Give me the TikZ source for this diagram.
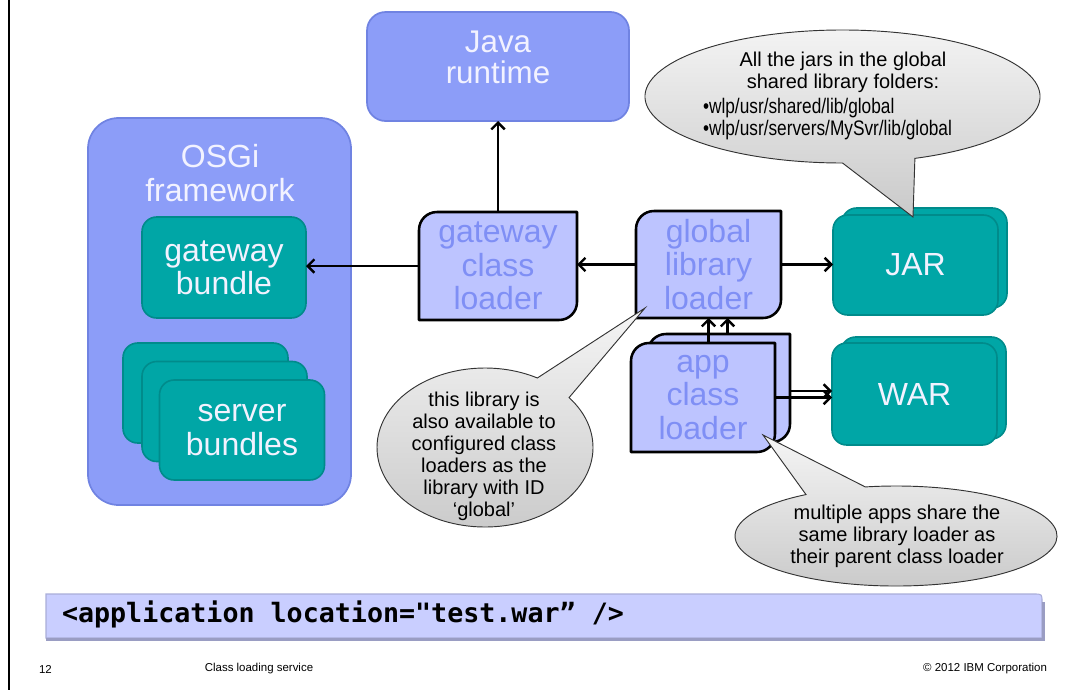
\documentclass[tikz,border=0pt]{standalone}
\usepackage{fontspec}
\setmainfont{Liberation Sans}
\newfontfamily\narrowfont[FakeStretch=0.82]{Liberation Sans}
\newfontfamily\codefont{DejaVu Sans Mono}
\usetikzlibrary{arrows.meta,calc}
\pgfdeclarelayer{bg}
\pgfsetlayers{bg,main}

\definecolor{bluefill}{HTML}{8C9DF8}
\definecolor{blueedge}{HTML}{7083E2}
\definecolor{loaderfill}{HTML}{BDC4FF}
\definecolor{loadertext}{HTML}{7F8FF5}
\definecolor{tealfill}{HTML}{00A6A6}
\definecolor{tealedge}{HTML}{008B8B}
\definecolor{lighttext}{HTML}{F2F2FF}
\definecolor{barfill}{HTML}{C9CEFF}
\definecolor{baredge}{HTML}{A9ADD8}
\definecolor{barshade}{HTML}{9A9DC3}
\definecolor{calloutedge}{HTML}{333333}

\newcommand\boxfont{\fontsize{24}{25}\selectfont}
\newcommand\notefont{\fontsize{15}{16.5}\selectfont}

% loader frame: rounded top-left and bottom-right corners only
\newcommand\cornerframe[1]{%
  \begin{pgfonlayer}{bg}
  \draw[loaderframe] (#1.south west) -- ([yshift=-13.5pt]#1.north west)
     .. controls ([yshift=-6pt]#1.north west) and ([xshift=6pt]#1.north west) .. ([xshift=13.5pt]#1.north west)
     -- (#1.north east) -- ([yshift=13.5pt]#1.south east)
     .. controls ([yshift=6pt]#1.south east) and ([xshift=-6pt]#1.south east) .. ([xshift=-13.5pt]#1.south east)
     -- cycle;
  \end{pgfonlayer}}

\tikzset{
  x=0.75pt, y=-0.75pt,
  every node/.style={inner sep=0pt, outer sep=0pt},
  sized/.style 2 args={minimum width=#1*0.75pt, minimum height=#2*0.75pt},
  container/.style={draw=blueedge, fill=bluefill, line width=1.3pt},
  tealbox/.style={draw=tealedge, fill=tealfill, line width=1.2pt, rounded corners=11pt,
                  sized={165}{100}, text=lighttext, font=\boxfont, align=center},
  loader/.style={text=loadertext, font=\boxfont, align=center},
  loaderframe/.style={draw=black, fill=loaderfill, line width=1.9pt, line join=round},
  lighttitle/.style={text=lighttext, font=\boxfont, align=center},
  arr/.style={draw=black, line width=1.8pt, -{Straight Barb[length=5pt,width=10pt]}},
  callout/.style={draw=calloutedge, line width=0.7pt, top color=gray!8, bottom color=gray!42},
  note/.style={font=\notefont, align=center, text=black},
  footer/.style={font=\fontsize{8.6}{10}\selectfont},
}

\begin{document}
\begin{tikzpicture}
\useasboundingbox (0,0) rectangle (1073,690);
\draw[line width=1.1pt] (9,0) -- (9,690);

% Java runtime
\node[container, rounded corners=14pt, sized={262}{109}] (java) at (498,66.5) {};
\node[lighttitle, font=\fontsize{23.5}{23.5}\selectfont] (javatxt) at (498,57.5) {Java\\runtime};

% OSGi framework with its bundles
\node[container, rounded corners=23pt, sized={263}{387}] (osgi) at (219.5,311.5) {};
\node[lighttitle] (osgitxt) at (220,173) {OSGi\\framework};
\node[tealbox, sized={164}{101}] (gwb) at (224,267.5) {gateway\\bundle};
\node[tealbox] (srv1) at (205.5,393) {};
\node[tealbox] (srv2) at (224.5,411.5) {};
\node[tealbox] (srv3) at (242,430) {server\\bundles};

% class loaders
\node[loader, sized={158}{108}] (gcl) at (498,266) {gateway\\class\\loader};
\cornerframe{gcl}
\node[loader, sized={145}{107}] (glob) at (708.5,264.5) {global\\library\\loader};
\cornerframe{glob}
\node[sized={142}{108}] (appback) at (719,388) {};
\cornerframe{appback}
\node[loader, sized={144}{109}] (appfront) at (703,397.5) {app\\class\\loader};
\cornerframe{appfront}

% archives
\node[tealbox] (jarback) at (924.5,258) {};
\node[tealbox] (jar) at (915.5,265) {JAR};
\node[tealbox, sized={165}{102}] (warback) at (923.5,388) {};
\node[tealbox, sized={165}{102}] (war) at (914.5,394) {WAR};

% delegation arrows
\draw[arr] (gcl.north) -- (java.south);
\draw[arr] (gcl.west) -- (gcl.west -| gwb.east);
\draw[arr] (glob.west) -- (glob.west -| gcl.east);
\draw[arr] (glob.east) -- (glob.east -| jar.west);
\draw[arr] (appfront.north -| glob.south) -- (glob.south);
\coordinate (g2) at ([xshift=14.25pt]glob.south);
\draw[arr] (g2 |- appback.north) -- (g2);
\coordinate (ab) at ([yshift=-2.25pt]appback.east);
\draw[arr] (ab) -- (ab -| war.west);
\draw[arr] (appfront.east) -- (appfront.east -| war.west);

% callout: global shared library folders
\begin{scope}[shift={(842.5,96.5)}, y=0.75pt]
  \path[callout] (-90:197.5 and 66.5) -- (70.5,-120.5) -- (-68.5:197.5 and 66.5)
    arc[start angle=-68.5, end angle=270, x radius=197.5, y radius=66.5] -- cycle;
\end{scope}
\node[note] (jarnote) at (843,72.5) {All the jars in the global\\shared library folders:};
\node[note, anchor=west, align=left, font=\narrowfont\fontsize{15.8}{16.5}\selectfont] (jarlist) at (703,119)
  {•wlp/usr/shared/lib/global\\•wlp/usr/servers/MySvr/lib/global};

% callout: library id
\begin{scope}[shift={(485,447.5)}, y=0.75pt]
  \path[callout] (61:108 and 79.5) -- (160,139.5) -- (38.9:108 and 79.5)
    arc[start angle=38.9, end angle=-299, x radius=108, y radius=79.5] -- cycle;
\end{scope}
\node[note] (libnote) at (484,456) {this library is\\also available to\\configured class\\loaders as the\\library with ID\\‘global’};

% callout: shared parent
\begin{scope}[shift={(896,536)}, y=0.75pt]
  \path[callout] (124:161 and 50) -- (-133,101) -- (101:161 and 50)
    arc[start angle=101, end angle=-236, x radius=161, y radius=50] -- cycle;
\end{scope}
\node[note] (appnote) at (897,536) {multiple apps share the\\same library loader as\\their parent class loader};

% configuration snippet
\node[sized={996}{44}] (bar) at (544,616) {};
\path[fill=barfill, draw=baredge, line width=0.8pt] (bar.south west) -- (bar.north west)
  -- ([xshift=-6pt]bar.north east) .. controls (bar.north east) .. ([yshift=-6pt]bar.north east)
  -- (bar.south east) -- cycle;
\draw[draw=barshade, line width=2pt] ([yshift=-6pt,xshift=1pt]bar.north east)
  -- ([xshift=1pt,yshift=-1pt]bar.south east) -- ([yshift=-1pt]bar.south west);
\node[anchor=west, font=\codefont\bfseries\fontsize{20}{24}\selectfont] (code) at (62,614)
  {<application location="test.war” />};

% footer
\node[footer] (pagenum) at (45.5,669) {12};
\node[footer] (title) at (259,669) {Class loading service};
\node[footer, anchor=east] (copyright) at (1047,669) {© 2012 IBM Corporation};
\end{tikzpicture}
\end{document}
